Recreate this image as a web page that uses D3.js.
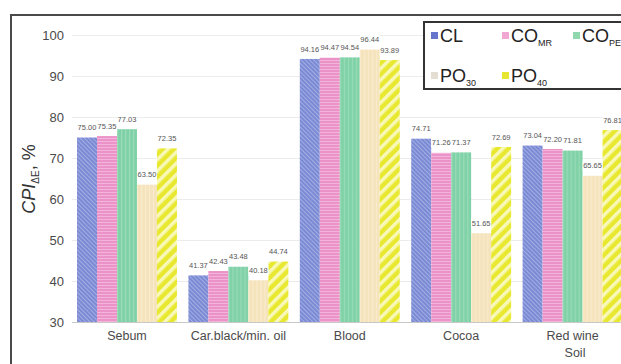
<!DOCTYPE html>
<html>

<head>
    <meta charset="utf-8">
    <title>CPI by soil</title>
    <script type="text/javascript" src="https://d3js.org/d3.v7.min.js"></script>
    <style>
        body {
            margin: 0;
            background: #fff;
        }

        svg {
            display: block;
        }

        text {
            font-family: "Liberation Sans", Arial, sans-serif;
        }
    </style>
</head>

<body>
    <script type="text/javascript">
        // chart data
        var categories = ["Sebum", "Car.black/min. oil", "Blood", "Cocoa", "Red wine"];
        var seriesNames = ["CL", "CO_MR", "CO_PE", "PO_30", "PO_40"];
        var CL = [75.00, 41.37, 94.16, 74.71, 73.04];
        var CO_MR = [75.35, 42.43, 94.47, 71.26, 72.20];
        var CO_PE = [77.03, 43.48, 94.54, 71.37, 71.81];
        var PO_30 = [63.50, 40.18, 96.44, 51.65, 65.65];
        var PO_40 = [72.35, 44.74, 93.89, 72.69, 76.81];
        var yTicks = [30, 40, 50, 60, 70, 80, 90, 100];
        var xTitle = "Soil";

        var seriesValues = [CL, CO_MR, CO_PE, PO_30, PO_40];

        var w = 621;
        var h = 364;

        var svg = d3.select("body")
            .append("svg")
            .attr("width", w)
            .attr("height", h);

        var defs = svg.append("defs");

        // bar fill patterns, one per series
        function stripes(id, base, line, size, width, angle) {
            var p = defs.append("pattern")
                .attr("id", id)
                .attr("patternUnits", "userSpaceOnUse")
                .attr("width", size)
                .attr("height", size)
                .attr("patternTransform", "rotate(" + angle + ")");
            p.append("rect").attr("width", size).attr("height", size).attr("fill", base);
            p.append("rect").attr("width", width).attr("height", size).attr("fill", line);
        }
        stripes("p0", "#7b8ad4", "#a2ade2", 3, 1, -45);
        stripes("p1", "#eb92c8", "#f3b4d9", 3, 1, 90);
        stripes("p2", "#7fd2a7", "#9bdbb9", 4, 1.2, 0);
        stripes("p3", "#f5e3bb", "#f9ebcd", 4, 1.2, 0);
        stripes("p4", "#e8e830", "#f8f8b8", 8, 3.5, 45);

        var swatchColors = ["#6676cc", "#f0a8d2", "#8fd8ae", "#e4ddd2", "#e6e632"];

        // outer frame
        svg.append("path")
            .attr("d", "M11,364 V15 H621")
            .attr("fill", "none")
            .attr("stroke", "#4a4a4a")
            .attr("stroke-width", 2);

        var y = d3.scaleLinear()
            .domain([30, 100])
            .range([322, 35]);

        var step = 111.4;
        var x0 = d3.scaleBand()
            .domain(categories)
            .range([72, 72 + step * (categories.length - 0.103 + 0.09)])
            .paddingInner(0.103)
            .paddingOuter(0.045);

        var x1 = d3.scaleBand()
            .domain(seriesNames)
            .range([0, x0.bandwidth()]);

        // gridlines
        svg.append("g")
            .selectAll("line")
            .data(yTicks)
            .enter()
            .append("line")
            .attr("x1", 72)
            .attr("x2", w)
            .attr("y1", function(d) { return Math.round(y(d)) + 0.5; })
            .attr("y2", function(d) { return Math.round(y(d)) + 0.5; })
            .attr("stroke", function(d) { return d === 30 ? "#c8c8c8" : "#ececec"; })
            .attr("stroke-width", 1);

        // y axis labels
        var yAxis = d3.axisLeft(y).tickValues(yTicks).tickSize(0).tickPadding(0);
        var yg = svg.append("g")
            .attr("transform", "translate(64,0)")
            .call(yAxis);
        yg.select(".domain").remove();
        yg.selectAll("text")
            .attr("font-size", 13)
            .attr("fill", "#4a4a4a")
            .attr("font-family", "'Liberation Sans', Arial, sans-serif");

        // x axis labels
        var xAxis = d3.axisBottom(x0).tickSize(0).tickPadding(0);
        var xg = svg.append("g")
            .attr("transform", "translate(0,331)")
            .call(xAxis);
        xg.select(".domain").remove();
        xg.selectAll("text")
            .attr("dy", "0.75em")
            .attr("font-size", 12.5)
            .attr("fill", "#4a4a4a")
            .attr("font-family", "'Liberation Sans', Arial, sans-serif");

        svg.append("text")
            .attr("x", 575)
            .attr("y", 357)
            .attr("text-anchor", "middle")
            .attr("font-size", 12.5)
            .attr("fill", "#4a4a4a")
            .text(xTitle);

        // y axis title
        var yt = svg.append("text")
            .attr("transform", "translate(35,179) rotate(-90)")
            .attr("text-anchor", "middle")
            .attr("font-size", 18)
            .attr("fill", "#333");
        yt.append("tspan").attr("font-style", "italic").text("CPI");
        yt.append("tspan").attr("font-size", 10).attr("dy", 4).text("\u0394E");
        yt.append("tspan").attr("dy", -4).text(", %");

        // bars
        var rows = categories.map(function(c, i) {
            return seriesNames.map(function(s, j) {
                return { cat: c, series: s, idx: j, value: seriesValues[j][i] };
            });
        });

        var groups = svg.append("g")
            .selectAll("g")
            .data(rows)
            .enter()
            .append("g")
            .attr("transform", function(d, i) { return "translate(" + x0(categories[i]) + ",0)"; });

        groups.selectAll("rect")
            .data(function(d) { return d; })
            .enter()
            .append("rect")
            .attr("x", function(d) { return x1(d.series); })
            .attr("width", x1.bandwidth())
            .attr("y", function(d) { return y(d.value); })
            .attr("height", function(d) { return y(30) - y(d.value); })
            .attr("fill", function(d) { return "url(#p" + d.idx + ")"; });

        // value labels with white box behind
        var labels = groups.selectAll("g.lab")
            .data(function(d) { return d; })
            .enter()
            .append("g")
            .attr("class", "lab")
            .attr("transform", function(d) {
                return "translate(" + (x1(d.series) + x1.bandwidth() / 2) + "," + (y(d.value) - 10) + ")";
            });

        labels.append("rect")
            .attr("x", -10)
            .attr("y", -5)
            .attr("width", 20)
            .attr("height", 10)
            .attr("fill", "#fff");

        labels.append("text")
            .attr("text-anchor", "middle")
            .attr("dy", "0.35em")
            .attr("font-size", 7.5)
            .attr("fill", "#555")
            .text(function(d) { return d.value.toFixed(2); });

        // legend
        var legend = svg.append("g");
        legend.append("rect")
            .attr("x", 424)
            .attr("y", 22)
            .attr("width", 210)
            .attr("height", 67)
            .attr("fill", "#fff")
            .attr("stroke", "#333")
            .attr("stroke-width", 2);

        var legendPos = [[431, 36], [502, 36], [573, 36], [431, 76], [502, 76]];
        var legendItems = legend.selectAll("g")
            .data(seriesNames)
            .enter()
            .append("g")
            .attr("transform", function(d, i) { return "translate(" + legendPos[i][0] + "," + legendPos[i][1] + ")"; });

        legendItems.append("rect")
            .attr("x", 0)
            .attr("y", -4)
            .attr("width", 7)
            .attr("height", 7)
            .attr("fill", function(d, i) { return swatchColors[i]; });

        var lt = legendItems.append("text")
            .attr("x", 9)
            .attr("y", 6)
            .attr("font-size", 18)
            .attr("fill", "#222");
        lt.append("tspan").text(function(d) { return d.split("_")[0]; });
        lt.append("tspan")
            .attr("font-size", 9)
            .attr("dy", 4)
            .text(function(d) { return d.split("_")[1] || ""; });
    </script>
</body>

</html>
